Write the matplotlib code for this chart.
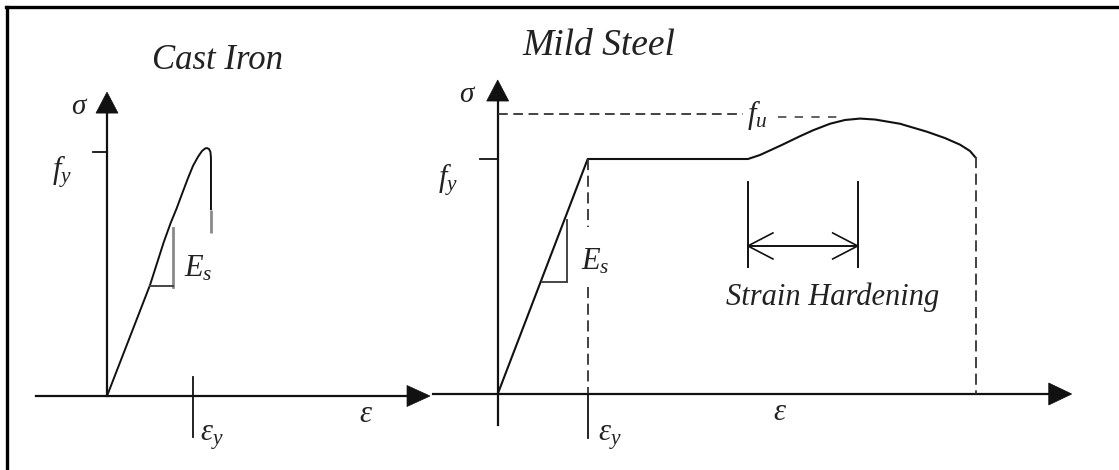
import matplotlib
matplotlib.use('Agg')
import matplotlib.pyplot as plt
from matplotlib.lines import Line2D

plt.rcParams['mathtext.fontset'] = 'custom'
plt.rcParams['mathtext.rm'] = 'Liberation Serif'
plt.rcParams['mathtext.it'] = 'Liberation Serif:italic'
plt.rcParams['font.family'] = ['Liberation Serif', 'DejaVu Serif']
plt.rcParams['lines.scale_dashes'] = False

# ---------------- data (strain / eps_y , stress / f_y) ----------------
titles = ['Cast Iron', 'Mild Steel']

ci_strain = [0, 0.50, 0.66, 0.74, 0.81, 0.872, 0.942, 1.0, 1.058, 1.105, 1.140, 1.163, 1.186, 1.203, 1.209, 1.209]
ci_stress = [0, 0.454, 0.630, 0.708, 0.768, 0.827, 0.892, 0.942, 0.979, 1.003, 1.013, 1.015, 1.011, 0.999, 0.974, 0.761]
ci_tail_strain = [1.209, 1.209]
ci_tail_stress = [0.761, 0.667]

ms_strain = [0, 1.0, 2.781, 2.914, 3.148, 3.359, 3.503, 3.692, 3.859, 4.026, 4.192, 4.470,
             4.770, 4.970, 5.137, 5.248, 5.303]
ms_stress = [0, 1.0, 1.0, 1.017, 1.058, 1.097, 1.122, 1.150, 1.166, 1.172, 1.168, 1.150,
             1.116, 1.089, 1.061, 1.034, 1.009]

ms_fu = 1.19
ms_hardening = [2.78, 4.0]
ms_rupture = 5.31

W, H = 1119, 470
fig = plt.figure(figsize=(W / 100, H / 100), dpi=100)
fig.patch.set_facecolor('white')

LC = '#111111'
TC = '#222222'
GC = '#8a8a8a'
DC = '#333333'


def make_axes(ox, oy, ux, uy):
    ax = fig.add_axes([0, 0, 1, 1])
    ax.set_xlim(-ox / ux, (W - ox) / ux)
    ax.set_ylim((oy - H) / uy, oy / uy)
    ax.axis('off')
    ax.patch.set_alpha(0)
    return ax


def arrow_head(ax, tip, direction, ux, uy, L, Wd):
    x, y = tip
    if direction == 'right':
        pts = [(x, y), (x - L / ux, y + Wd / 2 / uy), (x - L / ux, y - Wd / 2 / uy)]
    else:
        pts = [(x, y), (x - Wd / 2 / ux, y - L / uy), (x + Wd / 2 / ux, y - L / uy)]
    xs, ys = zip(*pts)
    ax.fill(xs, ys, color=LC, lw=0.5, ec=LC)


def chevron(ax, tip, sign, ux, uy, L=25, hw=13):
    x, y = tip
    ax.plot([x + sign * L / ux, x, x + sign * L / ux],
            [y + hw / uy, y, y - hw / uy], color=LC, lw=1.2)


# ---------------- Cast Iron ----------------
ux1, uy1 = 86.0, 244.3
ax1 = make_axes(107, 396, ux1, uy1)
ax1.plot([0, 0], [0, 1.20], color=LC, lw=1.6)
ax1.plot([-0.826, 3.70], [0, 0], color=LC, lw=1.6)
arrow_head(ax1, (3.756, 0), 'right', ux1, uy1, 23, 21)
arrow_head(ax1, (0, 1.244), 'up', ux1, uy1, 21, 22)
ax1.plot([-0.163, 0], [1, 1], color=LC, lw=1.3)
ax1.plot([1, 1], [0.078, -0.168], color=LC, lw=1.3)
ax1.plot(ci_strain, ci_stress, color=LC, lw=1.4, solid_capstyle='butt', solid_joinstyle='round')
ax1.plot(ci_tail_strain, ci_tail_stress, color=GC, lw=2.0, solid_capstyle='butt')
ax1.plot([0.764, 0.764], [0.445, 0.688], color=GC, lw=2.0)
ax1.plot([0.5, 0.764], [0.450, 0.450], color='#444444', lw=1.4)

ax1.text(-0.314, 1.183, r'$\sigma$', fontsize=21, color=TC, ha='center', va='center')
ax1.text(-0.523, 0.917, '$f_y$', fontsize=22, color=TC, ha='center', va='center')
ax1.text(1.058, 0.52, '$E_s$', fontsize=22, color=TC, ha='center', va='center')
ax1.text(1.221, -0.168, r'$\varepsilon_y$', fontsize=22, color=TC, ha='center', va='center')
ax1.text(3.01, -0.075, r'$\varepsilon$', fontsize=22, color=TC, ha='center', va='center')
ax1.text(1.29, 1.375, titles[0], fontsize=25, style='italic', color=TC, ha='center', va='center')

# ---------------- Mild Steel ----------------
ux2, uy2 = 90.0, 235.0
ax2 = make_axes(497.7, 394, ux2, uy2)
ax2.plot([0, 0], [-0.132, 1.30], color=LC, lw=1.6)
ax2.plot([-0.719, 6.33], [0, 0], color=LC, lw=1.6)
arrow_head(ax2, (6.378, 0), 'right', ux2, uy2, 23, 22)
arrow_head(ax2, (0, 1.336), 'up', ux2, uy2, 21, 22)
ax2.plot([-0.197, 0], [1, 1], color=LC, lw=1.3)
ax2.plot(ms_strain, ms_stress, color=LC, lw=1.5, solid_joinstyle='round')

dash = (0, (8, 4))
ax2.plot([1, 1], [1, 0.711], color=DC, lw=1.3, linestyle=dash)
ax2.plot([1, 1], [0.455, 0], color=DC, lw=1.3, linestyle=dash)
ax2.plot([1, 1], [0, -0.187], color=LC, lw=1.3)
ax2.plot([0, 2.73], [ms_fu, ms_fu], color=DC, lw=1.3, linestyle=(0, (7, 4)))
ax2.plot([3.11, 3.8], [ms_fu - 0.01, ms_fu - 0.01], color='#555555', lw=1.3, linestyle=(0, (6, 6)))
ax2.plot([ms_rupture, ms_rupture], [ms_stress[-1], 0], color=DC, lw=1.3, linestyle=dash)

ax2.plot([0.767, 0.767], [0.478, 0.740], color='#444444', lw=1.4)
ax2.plot([0.489, 0.767], [0.478, 0.478], color='#444444', lw=1.4)

for e in ms_hardening:
    ax2.plot([e, e], [0.54, 0.902], color=LC, lw=1.4)
ax2.plot(ms_hardening, [0.630, 0.630], color=LC, lw=1.4)
chevron(ax2, (ms_hardening[0], 0.630), 1, ux2, uy2)
chevron(ax2, (ms_hardening[1], 0.630), -1, ux2, uy2)

ax2.text(-0.33, 1.272, r'$\sigma$', fontsize=21, color=TC, ha='center', va='center')
ax2.text(-0.553, 0.911, '$f_y$', fontsize=22, color=TC, ha='center', va='center')
ax2.text(2.88, 1.187, '$f_u$', fontsize=22, color=TC, ha='center', va='center')
ax2.text(1.081, 0.562, '$E_s$', fontsize=22, color=TC, ha='center', va='center')
ax2.text(1.248, -0.183, r'$\varepsilon_y$', fontsize=22, color=TC, ha='center', va='center')
ax2.text(3.137, -0.08, r'$\varepsilon$', fontsize=22, color=TC, ha='center', va='center')
ax2.text(3.726, 0.413, 'Strain Hardening', fontsize=22, style='italic', color=TC, ha='center', va='center')
ax2.text(1.126, 1.48, titles[1], fontsize=27, style='italic', color=TC, ha='center', va='center')

# ---------------- frame ----------------
fig.add_artist(Line2D([7 / W, 7 / W], [0, 1 - 6.5 / H], transform=fig.transFigure, lw=2.4, color='black'))
fig.add_artist(Line2D([5.8 / W, 1], [1 - 6.5 / H, 1 - 6.5 / H], transform=fig.transFigure, lw=2.4, color='black'))

fig.savefig('out.png', dpi=100, facecolor='white')
